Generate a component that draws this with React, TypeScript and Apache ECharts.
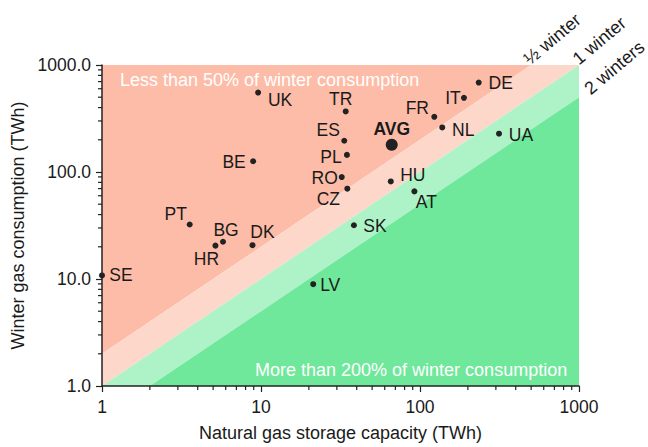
import React, { useEffect, useRef } from "react";
import * as echarts from "echarts";

// ---- data ----
const COUNTRIES = ["SE", "PT", "BG", "HR", "DK", "LV", "SK", "RO", "CZ", "PL", "ES", "TR", "UK", "BE", "HU", "AT", "FR", "NL", "IT", "DE", "UA"];
const STORAGE_TWH = [1.0, 3.56, 5.77, 5.17, 8.84, 21.3, 38.4, 32.2, 34.9, 34.7, 33.4, 34.1, 9.59, 8.92, 65.5, 92.2, 123, 138, 189, 234, 314];
const WINTER_TWH = [10.8, 32.3, 22.3, 20.5, 20.7, 8.94, 31.8, 89.7, 69.8, 144.5, 196, 368, 553, 126, 81.6, 65.9, 328, 261, 493, 685, 228];
const AVG_LABEL = ["AVG"];
const AVG_STORAGE = [66.4];
const AVG_WINTER = [180];

const AXIS_MIN = 1;
const AXIS_MAX = 1000;
// consumption / storage ratios of the band boundaries (½ winter, 1 winter, 2 winters)
const BOUNDARY_RATIOS = [2, 1, 0.5];
const BOUNDARY_NAMES = ["½ winter", "1 winter", "2 winters"];
const MINOR_MANTISSAS = [2, 3, 4, 5, 6, 7, 8, 9];
const DECADES = [1, 10, 100];

// ---- styling (not data) ----
const FONT = 'Arial, "Liberation Sans", sans-serif';
const TEXT = "#1a1a1a";
const BAND_COLORS = ["#FDBCA7", "#FED7CB", "#AEF3C7", "#6FE89B"];
const LABEL_OFFSETS: Record<string, [number, number]> = {
  SE: [19, 0], PT: [-14, -11], BG: [3, -12], HR: [-9, 13], DK: [10, -13],
  LV: [17, 1], SK: [21, 1], RO: [-17, 1], CZ: [-19, 10], PL: [-16, 2],
  ES: [-16, -11], TR: [-5, -12], UK: [22, 7], BE: [-19, 1], HU: [22, -6],
  AT: [12, 11], FR: [-17, -9], NL: [21, 3], IT: [-11, 0], DE: [22, 0], UA: [22, 1],
  AVG: [0, -16],
};

function segment(r: number): [number[], number[]] {
  const start = [Math.max(AXIS_MIN, AXIS_MIN / r), Math.max(AXIS_MIN, AXIS_MIN * r)];
  const end = [Math.min(AXIS_MAX, AXIS_MAX / r), Math.min(AXIS_MAX, AXIS_MAX * r)];
  return [start, end];
}

export default function App() {
  const ref = useRef<HTMLDivElement>(null);
  useEffect(() => {
    if (!ref.current) return;
    const chart = echarts.init(ref.current, undefined, { renderer: "svg" });
    const segs = BOUNDARY_RATIOS.map(segment);
    const polys = [
      [[AXIS_MIN, AXIS_MAX], segs[0][0], segs[0][1]],
      [segs[1][0], segs[0][0], segs[0][1], segs[1][1]],
      [segs[2][0], segs[1][0], segs[1][1], segs[2][1]],
      [segs[2][0], segs[2][1], [AXIS_MAX, AXIS_MIN]],
    ];
    const minor: number[] = [];
    DECADES.forEach((d) => MINOR_MANTISSAS.forEach((m) => minor.push(m * d)));

    const labelStyle = {
      show: true,
      position: "inside",
      formatter: "{b}",
      color: TEXT,
      opacity: 1,
      textBorderWidth: 0,
      textBorderColor: "transparent",
      fontSize: 17.5,
      fontFamily: FONT,
      align: "center",
      verticalAlign: "middle",
    };

    const option: any = {
      animation: false,
      grid: { left: 102, right: 69, top: 65, bottom: 58, containLabel: false },
      xAxis: {
        type: "log",
        logBase: 10,
        min: AXIS_MIN,
        max: AXIS_MAX,
        name: "Natural gas storage capacity (TWh)",
        nameLocation: "middle",
        nameGap: 38,
        nameTextStyle: { fontSize: 18, fontFamily: FONT, color: TEXT },
        axisLine: { show: true, onZero: false, lineStyle: { color: "#222", width: 1.5 } },
        axisTick: { show: true, length: 6, lineStyle: { color: "#222", width: 1.2 } },
        axisLabel: { fontSize: 17.5, fontFamily: FONT, color: TEXT, margin: 12, formatter: (v: number) => String(Math.round(v)) },
        splitLine: { show: false },
      },
      yAxis: {
        type: "log",
        logBase: 10,
        min: AXIS_MIN,
        max: AXIS_MAX,
        name: "Winter gas consumption (TWh)",
        nameLocation: "middle",
        nameGap: 69,
        nameTextStyle: { fontSize: 18, fontFamily: FONT, color: TEXT },
        axisLine: { show: true, onZero: false, lineStyle: { color: "#222", width: 1.5 } },
        axisTick: { show: true, length: 6, lineStyle: { color: "#222", width: 1.2 } },
        axisLabel: {
          fontSize: 17.5,
          fontFamily: FONT,
          color: TEXT,
          margin: 11,
          formatter: (v: number) => v.toFixed(1),
        },
        splitLine: { show: false },
      },
      graphic: [
        {
          type: "text", x: 120, y: 80, z: 50,
          style: { text: "Less than 50% of winter consumption", fill: "#fff", font: `18px ${FONT}`, verticalAlign: "middle" },
        },
        {
          type: "text", x: 255, y: 370, z: 50,
          style: { text: "More than 200% of winter consumption", fill: "#fff", font: `18px ${FONT}`, verticalAlign: "middle" },
        },
        {
          type: "text", x: 532, y: 68, rotation: (40 * Math.PI) / 180,
          style: { text: BOUNDARY_NAMES[0], fill: TEXT, font: `18px ${FONT}`, align: "left", verticalAlign: "bottom" },
        },
        {
          type: "text", x: 581, y: 68, rotation: (40 * Math.PI) / 180,
          style: { text: BOUNDARY_NAMES[1], fill: TEXT, font: `18px ${FONT}`, align: "left", verticalAlign: "bottom" },
        },
        {
          type: "text", x: 581, y: 84, rotation: (40 * Math.PI) / 180,
          style: { text: BOUNDARY_NAMES[2], fill: TEXT, font: `18px ${FONT}`, align: "left", verticalAlign: "top" },
        },
      ],
      series: [
        {
          type: "custom",
          z: 0,
          silent: true,
          data: polys.map(() => [AXIS_MIN, AXIS_MIN]),
          renderItem: (params: any, api: any) => {
            const pts = polys[params.dataIndex].map((p) => api.coord(p));
            return { type: "polygon", shape: { points: pts }, style: { fill: BAND_COLORS[params.dataIndex] } };
          },
        },
        {
          type: "custom",
          z: 3,
          silent: true,
          data: minor.map((v) => [v, AXIS_MIN]),
          renderItem: (params: any, api: any) => {
            const p = api.coord([minor[params.dataIndex], AXIS_MIN]);
            return { type: "line", shape: { x1: p[0], y1: p[1], x2: p[0], y2: p[1] + 4 }, style: { stroke: "#222", lineWidth: 1.2 } };
          },
        },
        {
          type: "custom",
          z: 3,
          silent: true,
          data: minor.map((v) => [AXIS_MIN, v]),
          renderItem: (params: any, api: any) => {
            const p = api.coord([AXIS_MIN, minor[params.dataIndex]]);
            return { type: "line", shape: { x1: p[0] - 4, y1: p[1], x2: p[0], y2: p[1] }, style: { stroke: "#222", lineWidth: 1.2 } };
          },
        },
        {
          type: "scatter",
          z: 5,
          symbolSize: 6,
          itemStyle: { color: "#222", opacity: 1 },
          data: COUNTRIES.map((n, i) => ({
            name: n,
            value: [STORAGE_TWH[i], WINTER_TWH[i]],
            label: { offset: LABEL_OFFSETS[n] },
          })),
          label: labelStyle,
        },
        {
          type: "scatter",
          z: 5,
          symbolSize: 12,
          itemStyle: { color: "#222", opacity: 1 },
          data: AVG_LABEL.map((n, i) => ({
            name: n,
            value: [AVG_STORAGE[i], AVG_WINTER[i]],
            label: { offset: LABEL_OFFSETS[n] },
          })),
          label: { ...labelStyle, fontWeight: "bold" },
        },
      ],
    };
    chart.setOption(option);
    return () => chart.dispose();
  }, []);
  return <div ref={ref} style={{ position: "fixed", left: 0, top: 0, width: 648, height: 447, background: "#fff" }} />;
}
